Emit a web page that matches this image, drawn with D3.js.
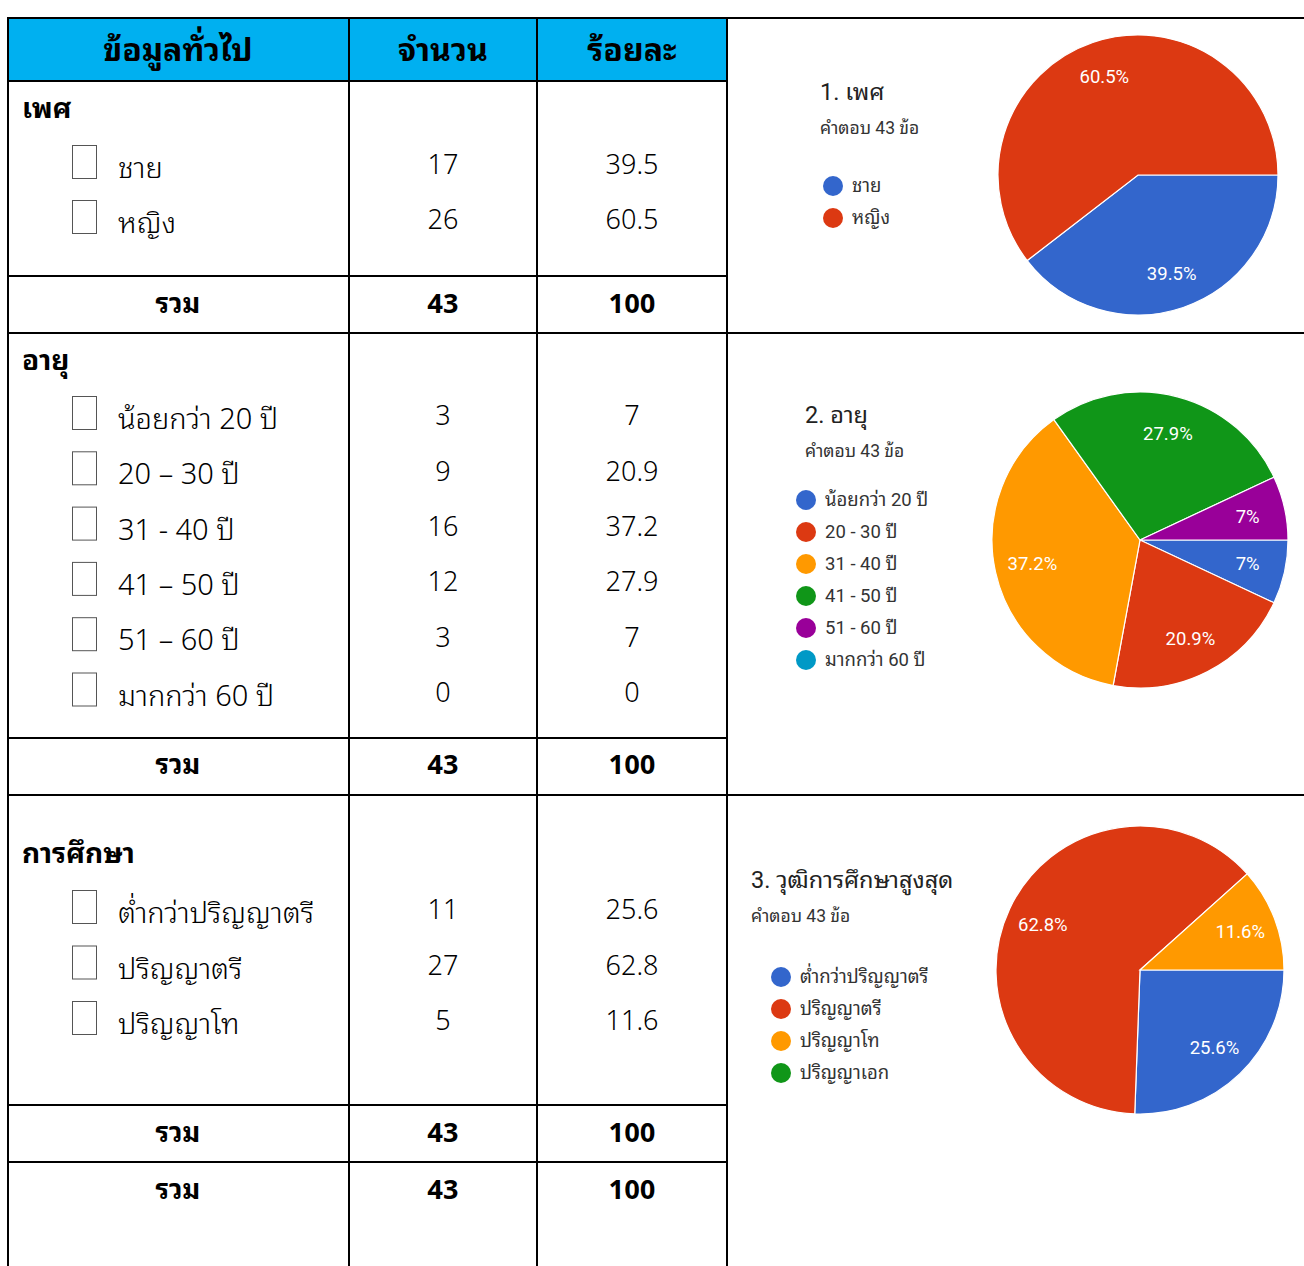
<!DOCTYPE html>
<html>
<head>
<meta charset="utf-8">
<script src="https://cdnjs.cloudflare.com/ajax/libs/d3/7.8.5/d3.min.js"></script>
<style>
  body { margin: 0; background: #fff; }
  svg { display: block; }
</style>
</head>
<body>
<svg id="chart" width="1304" height="1266"></svg>
<script>
// table data
const headers = ["ข้อมูลทั่วไป", "จำนวน", "ร้อยละ"]

const genderLabels = ["ชาย", "หญิง"]
const genderCounts = [17, 26]
const genderPct = ["39.5", "60.5"]

const ageLabels = ["น้อยกว่า 20 ปี", "20 – 30  ปี", "31 - 40  ปี", "41 – 50 ปี", "51 – 60 ปี", "มากกว่า 60 ปี"]
const ageCounts = [3, 9, 16, 12, 3, 0]
const agePct = ["7", "20.9", "37.2", "27.9", "7", "0"]

const eduLabels = ["ต่ำกว่าปริญญาตรี", "ปริญญาตรี", "ปริญญาโท"]
const eduCounts = [11, 27, 5]
const eduPct = ["25.6", "62.8", "11.6"]

const totalLabel = "รวม"
const totalCount = 43
const totalPct = "100"

// pie data (google forms summary)
const pieTitles = ["1. เพศ", "2. อายุ", "3. วุฒิการศึกษาสูงสุด"]
const pieSubtitle = "คำตอบ 43 ข้อ"
const pieGenderLegend = ["ชาย", "หญิง"]
const pieAgeLegend = ["น้อยกว่า 20 ปี", "20 - 30 ปี", "31 - 40 ปี", "41 - 50 ปี", "51 - 60 ปี", "มากกว่า 60 ปี"]
const pieEduLegend = ["ต่ำกว่าปริญญาตรี", "ปริญญาตรี", "ปริญญาโท", "ปริญญาเอก"]
const pieEduCounts = [11, 27, 5, 0]

const palette = ["#3366cc", "#dc3912", "#ff9900", "#109618", "#990099", "#0099c6"]

const svg = d3.select("#chart")
const thai = "'Noto Sans Thai Looped', Loma, Garuda, Norasi, Sarabun, 'Noto Sans Thai', 'Noto Sans', sans-serif"
const goog = "Roboto, 'Noto Sans Thai Looped', Loma, Garuda, 'Noto Sans Thai', 'Noto Sans', sans-serif"

// ---- table ----
const colX = [8, 349, 537, 727]
const colMid = [178, 443, 632]

svg.append("rect")
  .attr("x", colX[0]).attr("y", 18)
  .attr("width", colX[3] - colX[0]).attr("height", 63)
  .attr("fill", "#00b0f0")

const header = svg.append("g")
header.selectAll("text")
  .data(headers)
  .enter().append("text")
  .attr("x", (d, i) => colMid[i])
  .attr("y", 50)
  .attr("dy", "0.35em")
  .attr("text-anchor", "middle")
  .style("font-family", thai)
  .style("font-weight", "bold")
  .style("font-size", "32px")
  .text(d => d)

function section(title, titleY, labels, counts, pct, firstY, step) {
  const g = svg.append("g")
  g.append("text")
    .attr("x", 22).attr("y", titleY).attr("dy", "0.35em")
    .style("font-family", thai).style("font-weight", "bold").style("font-size", "28px")
    .text(title)

  const rows = g.selectAll("g.row")
    .data(labels.map((l, i) => ({label: l, count: counts[i], pct: pct[i], y: firstY + i * step})))
    .enter().append("g").attr("class", "row")

  rows.append("rect")
    .attr("x", 72.5).attr("y", d => d.y - 19.5)
    .attr("width", 24).attr("height", 33)
    .attr("fill", "none").attr("stroke", "#555").attr("stroke-width", 1)

  rows.append("text")
    .attr("x", 118).attr("y", d => d.y + 3).attr("dy", "0.35em")
    .style("font-family", thai).style("font-weight", "300").style("font-size", "29px")
    .text(d => d.label)

  rows.append("text")
    .attr("x", colMid[1]).attr("y", d => d.y).attr("dy", "0.35em")
    .attr("text-anchor", "middle")
    .style("font-family", thai).style("font-weight", "300").style("font-size", "27px")
    .text(d => d.count)

  rows.append("text")
    .attr("x", colMid[2]).attr("y", d => d.y).attr("dy", "0.35em")
    .attr("text-anchor", "middle")
    .style("font-family", thai).style("font-weight", "300").style("font-size", "27px")
    .text(d => d.pct)
}

function totalRow(y) {
  svg.append("g").selectAll("text")
    .data([totalLabel, totalCount, totalPct])
    .enter().append("text")
    .attr("x", (d, i) => colMid[i])
    .attr("y", y).attr("dy", "0.35em")
    .attr("text-anchor", "middle")
    .style("font-family", thai).style("font-weight", "bold").style("font-size", "27px")
    .text(d => d)
}

section("เพศ", 108, genderLabels, genderCounts, genderPct, 165, 55)
totalRow(304)
section("อายุ", 360, ageLabels, ageCounts, agePct, 416, 55.3)
totalRow(765)
section("การศึกษา", 853, eduLabels, eduCounts, eduPct, 910, 55.5)
totalRow(1133)
totalRow(1190)

// grid lines
const lines = svg.append("g").attr("stroke", "#000").attr("stroke-width", 2)
;[18, 333, 795].forEach(y => lines.append("line").attr("x1", 7).attr("x2", 1304).attr("y1", y).attr("y2", y))
;[81, 276, 738, 1105, 1162].forEach(y => lines.append("line").attr("x1", 7).attr("x2", 728).attr("y1", y).attr("y2", y))
colX.forEach(x => lines.append("line").attr("x1", x).attr("x2", x).attr("y1", 17).attr("y2", 1266))

// ---- pies ----
const pctFmt = v => d3.format(".1f")(v).replace(/\.0$/, "") + "%"

function pieChart(opts) {
  const g = svg.append("g")
  g.append("text")
    .attr("x", opts.tx).attr("y", opts.ty)
    .style("font-family", goog).style("font-size", "23.5px").attr("fill", "#222")
    .text(opts.title)
  g.append("text")
    .attr("x", opts.tx).attr("y", opts.ty + 34)
    .style("font-family", goog).style("font-size", "17.5px").attr("fill", "#333")
    .text(pieSubtitle)

  const leg = g.selectAll("g.leg")
    .data(opts.legend)
    .enter().append("g").attr("class", "leg")
    .attr("transform", (d, i) => `translate(${opts.lx},${opts.ly + i * 32})`)
  leg.append("circle").attr("r", 10).attr("fill", (d, i) => palette[i])
  leg.append("text")
    .attr("x", 19).attr("dy", "0.35em")
    .style("font-family", goog).style("font-size", "18.5px").attr("fill", "#333")
    .text(d => d)

  const total = d3.sum(opts.values)
  const pie = d3.pie().sort(null)
    .startAngle(Math.PI / 2).endAngle(Math.PI / 2 + 2 * Math.PI)
  const arcs = pie(opts.values)
  const arc = d3.arc().innerRadius(0).outerRadius(opts.r)
  const labelArc = d3.arc().innerRadius(opts.r * 0.745).outerRadius(opts.r * 0.745)

  const pg = g.append("g").attr("transform", `translate(${opts.cx},${opts.cy})`)
  pg.selectAll("path")
    .data(arcs.filter(d => d.value > 0))
    .enter().append("path")
    .attr("d", arc)
    .attr("fill", d => palette[d.index])
    .attr("stroke", "#fff").attr("stroke-width", 1.2)

  pg.selectAll("text")
    .data(arcs.filter(d => d.value > 0))
    .enter().append("text")
    .attr("transform", d => `translate(${labelArc.centroid(d)})`)
    .attr("text-anchor", "middle").attr("dy", "0.35em")
    .style("font-family", goog).style("font-size", "18.5px").attr("fill", "#fff")
    .text(d => pctFmt(d.value / total * 100))
}

pieChart({title: pieTitles[0], tx: 820, ty: 100, lx: 833, ly: 186, legend: pieGenderLegend,
  values: genderCounts, cx: 1138, cy: 175, r: 140})
pieChart({title: pieTitles[1], tx: 805, ty: 423, lx: 806, ly: 500, legend: pieAgeLegend,
  values: ageCounts, cx: 1140, cy: 540, r: 148})
pieChart({title: pieTitles[2], tx: 751, ty: 888, lx: 781, ly: 977, legend: pieEduLegend,
  values: pieEduCounts, cx: 1140, cy: 970, r: 144})
</script>
</body>
</html>
